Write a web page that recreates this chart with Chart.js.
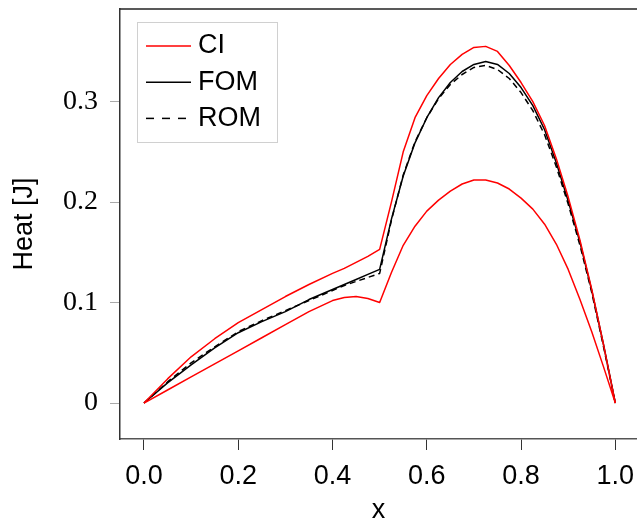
<!DOCTYPE html>
<html>
<head>
<meta charset="utf-8">
<script src="https://cdn.jsdelivr.net/npm/chart.js@4.4.1/dist/chart.umd.min.js"></script>
<style>
  html, body { margin: 0; padding: 0; background: #fff; overflow: hidden; }
  #wrap { width: 637px; height: 523px; }
</style>
</head>
<body>
<div id="wrap"><canvas id="myChart"></canvas></div>
<script>
// Data
const xs = [0, 0.05, 0.1, 0.15, 0.2, 0.25, 0.3, 0.35, 0.4, 0.425, 0.45, 0.475, 0.5,
  0.525, 0.55, 0.575, 0.6, 0.625, 0.65, 0.675, 0.7, 0.725, 0.75, 0.775, 0.8,
  0.825, 0.85, 0.875, 0.9, 0.925, 0.95, 0.975, 1.0];
const ciUpper = [0, 0.024, 0.046, 0.064, 0.080, 0.093, 0.106, 0.118, 0.129, 0.134, 0.140, 0.146, 0.153,
  0.200, 0.250, 0.284, 0.306, 0.323, 0.337, 0.347, 0.354, 0.355, 0.350, 0.336, 0.319,
  0.300, 0.276, 0.243, 0.205, 0.162, 0.113, 0.058, 0];
const ciLower = [0, 0.013, 0.026, 0.039, 0.052, 0.065, 0.078, 0.091, 0.102, 0.105, 0.106, 0.104, 0.100,
  0.130, 0.157, 0.176, 0.191, 0.202, 0.211, 0.218, 0.222, 0.222, 0.219, 0.213, 0.204,
  0.193, 0.178, 0.158, 0.133, 0.103, 0.071, 0.036, 0];
const fom = [0, 0.020, 0.038, 0.055, 0.070, 0.081, 0.091, 0.103, 0.113, 0.118, 0.123, 0.128, 0.133,
  0.183, 0.226, 0.259, 0.284, 0.304, 0.319, 0.330, 0.337, 0.340, 0.337, 0.328, 0.314,
  0.296, 0.272, 0.239, 0.201, 0.160, 0.112, 0.058, 0];
const rom = [0, 0.021, 0.040, 0.056, 0.071, 0.082, 0.092, 0.102, 0.112, 0.117, 0.121, 0.125, 0.129,
  0.182, 0.227, 0.260, 0.284, 0.303, 0.317, 0.327, 0.334, 0.336, 0.332, 0.323, 0.309,
  0.291, 0.267, 0.235, 0.198, 0.157, 0.110, 0.056, 0];

const xTicks = [0, 0.2, 0.4, 0.6, 0.8, 1.0];
const xTickLabels = ['0.0', '0.2', '0.4', '0.6', '0.8', '1.0'];
const yTicks = [0, 0.1, 0.2, 0.3];
const yTickLabels = ['0', '0.1', '0.2', '0.3'];

const toPoints = (ys) => xs.map((x, i) => ({ x, y: ys[i] }));

const SANS = '"Liberation Sans", Arial, sans-serif';
const SERIF = '"Liberation Serif", "Times New Roman", serif';

// legend drawn inside the plot, like the original
const boxLegend = {
  id: 'boxLegend',
  afterDraw(chart) {
    const { ctx, chartArea } = chart;
    // top frame line
    ctx.save();
    ctx.strokeStyle = '#222';
    ctx.lineWidth = 1.5;
    ctx.beginPath();
    ctx.moveTo(chartArea.left, chartArea.top);
    ctx.lineTo(chartArea.right, chartArea.top);
    ctx.stroke();

    const bx = chartArea.left + 17;
    const by = chartArea.top + 13.5;
    ctx.strokeStyle = '#d0d0d0';
    ctx.lineWidth = 1;
    ctx.strokeRect(bx + 0.5, by, 140, 120);

    const seen = new Set();
    const items = chart.data.datasets.filter((d) => {
      if (seen.has(d.label)) return false;
      seen.add(d.label);
      return true;
    });
    ctx.font = '27px ' + SANS;
    ctx.textBaseline = 'middle';
    ctx.fillStyle = '#000';
    items.forEach((d, i) => {
      const y = by + 23.5 + i * 36.2;
      ctx.strokeStyle = d.borderColor;
      ctx.lineWidth = 1.5;
      ctx.setLineDash(d.borderDash && d.borderDash.length ? [8, 8] : []);
      ctx.beginPath();
      ctx.moveTo(bx + 9, y);
      ctx.lineTo(bx + 54, y);
      ctx.stroke();
      ctx.setLineDash([]);
      ctx.fillText(d.label, bx + 61, y);
    });
    ctx.restore();
  },
};

const line = (label, ys, color, dash) => ({
  label,
  data: toPoints(ys),
  borderColor: color,
  borderWidth: 1.5,
  borderDash: dash || [],
  borderJoinStyle: 'round',
  pointRadius: 0,
  tension: 0,
  fill: false,
});

const config = {
  type: 'line',
  data: {
    datasets: [
      line('CI', ciUpper, '#ff0000'),
      line('CI', ciLower, '#ff0000'),
      line('FOM', fom, '#000000'),
      line('ROM', rom, '#000000', [6, 4]),
    ],
  },
  options: {
    responsive: true,
    maintainAspectRatio: false,
    animation: false,
    devicePixelRatio: 1,
    layout: { padding: { left: 0, right: 0, top: 9, bottom: 0 } },
    plugins: {
      legend: { display: false },
      tooltip: { enabled: false },
    },
    scales: {
      x: {
        type: 'linear',
        min: -0.0509,
        max: 1.046,
        afterBuildTicks: (scale) => { scale.ticks = xTicks.map((v) => ({ value: v })); },
        afterFit: (scale) => {
          scale.height = 84;
          scale.paddingLeft = 0;
          scale.paddingRight = 0;
        },
        ticks: {
          callback: (value, index) => xTickLabels[index],
          font: { family: SANS, size: 27 },
          color: '#000',
          padding: 10,
          maxRotation: 0,
        },
        grid: {
          display: true,
          drawOnChartArea: false,
          drawTicks: true,
          tickLength: 11,
          color: '#333',
          lineWidth: 1,
        },
        border: { display: true, color: '#555', width: 1.5 },
        title: {
          display: true,
          text: 'x',
          font: { family: SANS, size: 27 },
          color: '#000',
          padding: { top: 0, bottom: -4 },
        },
      },
      y: {
        type: 'linear',
        min: -0.0358,
        max: 0.3922,
        afterBuildTicks: (scale) => { scale.ticks = yTicks.map((v) => ({ value: v })); },
        afterFit: (scale) => {
          scale.width = 120;
          scale.paddingTop = 0;
          scale.paddingBottom = 0;
        },
        ticks: {
          callback: (value, index) => yTickLabels[index],
          font: { family: SERIF, size: 28 },
          color: '#000',
          padding: 12,
        },
        grid: {
          display: true,
          drawOnChartArea: false,
          drawTicks: true,
          tickLength: 10,
          color: '#aaa',
          lineWidth: 1,
        },
        border: { display: true, color: '#333', width: 1.5 },
        title: {
          display: true,
          text: 'Heat [J]',
          font: { family: SANS, size: 27 },
          color: '#000',
          padding: { top: 8, bottom: 0 },
        },
      },
    },
  },
  plugins: [boxLegend],
};

const myChart = new Chart(document.getElementById('myChart'), config);
</script>
</body>
</html>
